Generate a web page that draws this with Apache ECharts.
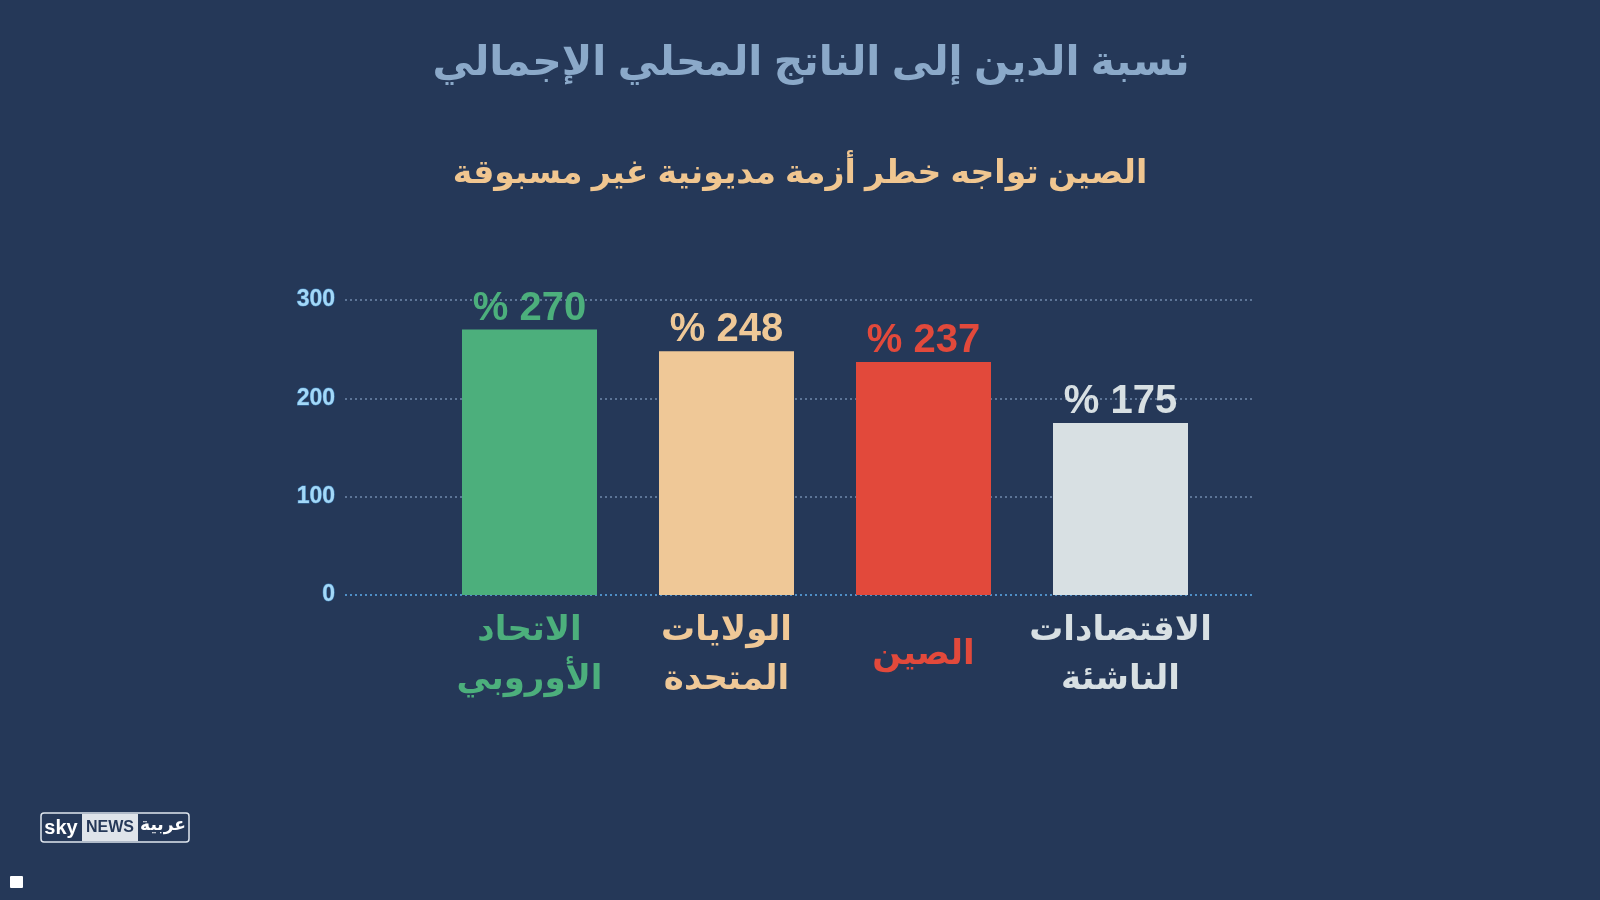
<!DOCTYPE html>
<html><head><meta charset="utf-8">
<script src="https://cdn.jsdelivr.net/npm/echarts@6/dist/echarts.min.js"></script>
<style>html,body{margin:0;padding:0;background:#253858;}#c{width:1600px;height:900px;}</style>
</head><body><div id="c"></div>
<script>
const titleText = 'نسبة الدين إلى الناتج المحلي الإجمالي';
const subtitleText = 'الصين تواجه خطر أزمة مديونية غير مسبوقة';
const categories = ['الاتحاد\nالأوروبي', 'الولايات\nالمتحدة', 'الصين', 'الاقتصادات\nالناشئة'];
const values = [270, 248, 237, 175];
const yTicks = [0, 100, 200, 300];
const barColors = ['#4caf7c', '#efc897', '#e2493b', '#d8e0e3'];

const FONT = '"Liberation Sans", "DejaVu Sans", sans-serif';
const rich = {};
barColors.forEach((c, i) => { rich['c' + i] = {color: c, fontSize: 34, lineHeight: 49, fontWeight: 'bold', fontFamily: FONT}; });
const chart = echarts.init(document.getElementById('c'));
chart.setOption({
  backgroundColor: '#253858',
  animation: false,
  title: [
    {text: titleText, left: 806, textAlign: 'center', top: 38, textStyle: {color: '#8ba9c9', fontSize: 41, fontWeight: 'bold', fontFamily: FONT}},
    {text: subtitleText, left: 795, textAlign: 'center', top: 152, textStyle: {color: '#f0c690', fontSize: 33, fontWeight: 'bold', fontFamily: FONT}}
  ],
  grid: [
    {left: 345, right: 345, top: 300, bottom: 305},
    {left: 431, right: 381, top: 300, bottom: 305}
  ],
  xAxis: [
    {gridIndex: 0, type: 'category', data: categories, show: false},
    {gridIndex: 1, type: 'category', data: categories,
     axisLine: {show: false}, axisTick: {show: false},
     axisLabel: {interval: 0, margin: 60, verticalAlign: 'middle', fontSize: 34, lineHeight: 49, fontWeight: 'bold', fontFamily: FONT,
       rich: rich,
       formatter: (v) => { const i = categories.indexOf(v); return v.split('\n').map(l => '{c' + i + '|' + l + '}').join('\n'); }}}
  ],
  yAxis: [
    {gridIndex: 0, type: 'value', min: yTicks[0], max: yTicks[yTicks.length - 1], interval: 100,
     axisLine: {show: false}, axisTick: {show: false},
     axisLabel: {margin: 10, color: '#a3d8f7', fontSize: 23, fontWeight: 'bold', fontFamily: FONT, textBorderColor: '#3d7bb3', textBorderWidth: 1},
     splitLine: {show: true, lineStyle: {type: [2, 3], width: 2, color: ['#4f8fc6', '#5d7597', '#5d7597', '#5d7597']}}},
    {gridIndex: 1, type: 'value', min: yTicks[0], max: yTicks[yTicks.length - 1], interval: 100, show: false, splitLine: {show: false}}
  ],
  series: [{
    type: 'bar', xAxisIndex: 1, yAxisIndex: 1, barWidth: 135,
    data: values.map((v, i) => ({value: v, itemStyle: {color: barColors[i]}, label: {color: barColors[i]}})),
    label: {show: true, position: 'top', distance: 1, fontSize: 40, fontWeight: 'bold', fontFamily: FONT,
      formatter: p => '% ' + p.value}
  }],
  graphic: [
    {type: 'rect', shape: {x: 41, y: 813, width: 148, height: 29, r: 3}, style: {fill: '#253858', stroke: '#dfe6ee', lineWidth: 1.5}},
    {type: 'rect', shape: {x: 82, y: 814, width: 56, height: 27}, style: {fill: '#dfe4ea'}},
    {type: 'text', x: 61, y: 828, style: {text: 'sky', fill: '#ffffff', font: 'bold 20px "Liberation Sans"', align: 'center', verticalAlign: 'middle'}},
    {type: 'text', x: 110, y: 828, style: {text: 'NEWS', fill: '#253858', font: 'bold 16px "Liberation Sans Narrow", "Liberation Sans"', align: 'center', verticalAlign: 'middle'}},
    {type: 'text', x: 163, y: 826, style: {text: 'عربية', fill: '#ffffff', font: 'bold 17px "DejaVu Sans"', align: 'center', verticalAlign: 'middle'}},
    {type: 'rect', shape: {x: 10, y: 876, width: 13, height: 12, r: 1}, style: {fill: '#ffffff'}}
  ]
});
</script></body></html>
